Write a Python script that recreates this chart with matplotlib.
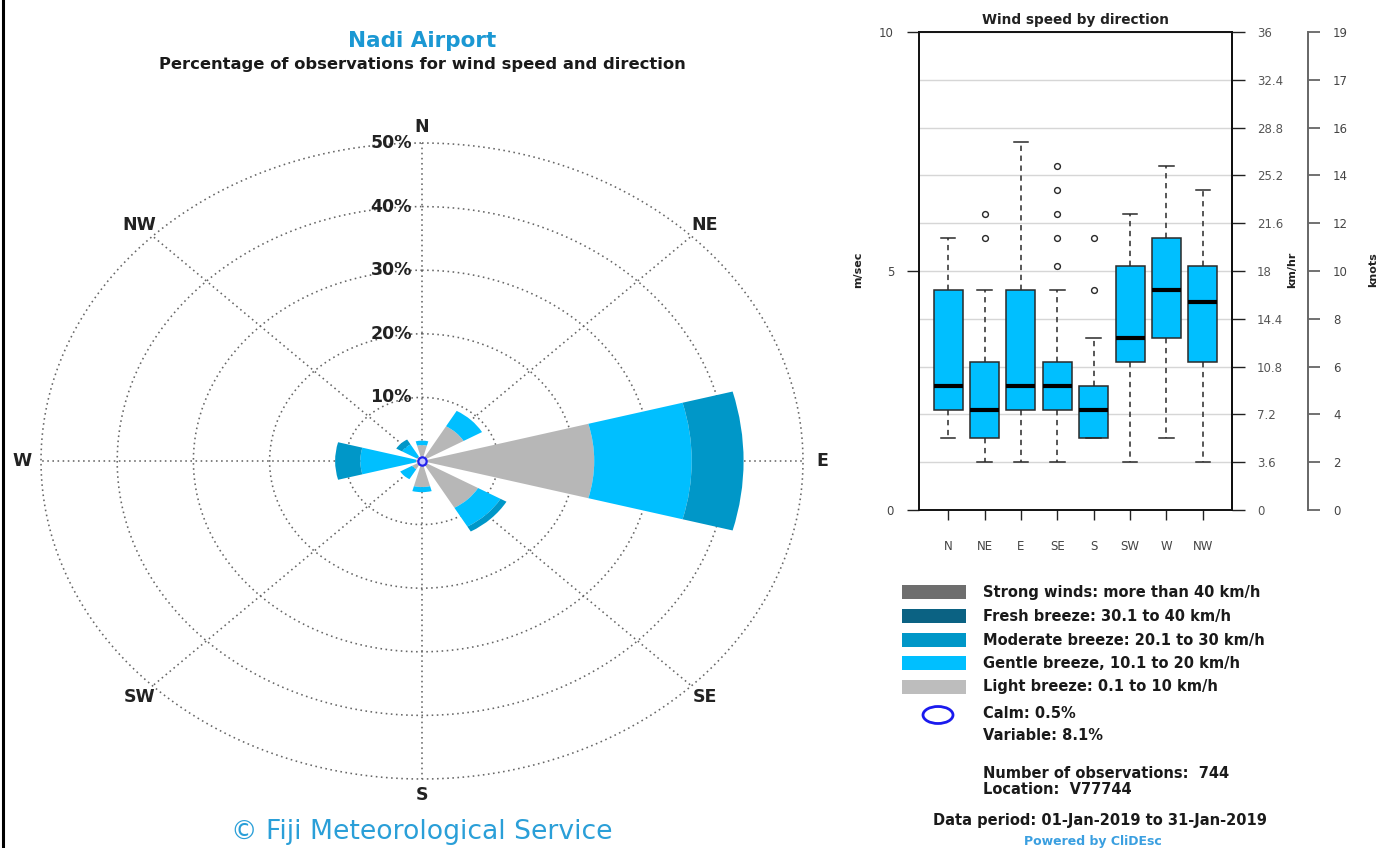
import numpy as np
import matplotlib
matplotlib.use("Agg")
import matplotlib.pyplot as plt
from matplotlib.patches import Rectangle, Ellipse
from matplotlib.lines import Line2D

plt.rcParams['font.family'] = ['DejaVu Sans']

# ---------------- data ----------------
directions = ['N', 'NE', 'E', 'SE', 'S', 'SW', 'W', 'NW']
dir_angles = [0, 45, 90, 135, 180, 225, 270, 315]
light_breeze = [2.5, 6.3, 22.6, 8.5, 4.1, 1.5, 0.8, 0.8]
gentle_breeze = [0.7, 2.8, 12.8, 3.4, 0.8, 1.8, 7.3, 2.2]
moderate_breeze = [0.0, 0.0, 6.8, 0.9, 0.0, 0.0, 3.3, 0.9]
fresh_breeze = [0, 0, 0, 0, 0, 0, 0, 0]
strong_winds = [0, 0, 0, 0, 0, 0, 0, 0]
ring_values = [10, 20, 30, 40, 50]
calm_pct = 0.5
variable_pct = 8.1

box_low = [1.5, 1.0, 1.0, 1.0, 1.5, 1.0, 1.5, 1.0]
box_q1 = [2.1, 1.5, 2.1, 2.1, 1.5, 3.1, 3.6, 3.1]
box_med = [2.6, 2.1, 2.6, 2.6, 2.1, 3.6, 4.6, 4.35]
box_q3 = [4.6, 3.1, 4.6, 3.1, 2.6, 5.1, 5.7, 5.1]
box_high = [5.7, 4.6, 7.7, 4.6, 3.6, 6.2, 7.2, 6.7]
box_outliers = [[], [5.7, 6.2], [], [5.1, 5.7, 6.2, 6.7, 7.2], [4.6, 5.7], [], [], []]

ms_ticks = [0, 5, 10]
kmh_ticks = [0, 3.6, 7.2, 10.8, 14.4, 18, 21.6, 25.2, 28.8, 32.4, 36]
kmh_labels = ['0', '3.6', '7.2', '10.8', '14.4', '18', '21.6', '25.2', '28.8', '32.4', '36']
knot_labels = ['0', '2', '4', '6', '8', '10', '12', '14', '16', '17', '19']

legend_labels = ['Strong winds: more than 40 km/h', 'Fresh breeze: 30.1 to 40 km/h',
                 'Moderate breeze: 20.1 to 30 km/h', 'Gentle breeze, 10.1 to 20 km/h',
                 'Light breeze: 0.1 to 10 km/h']
legend_colors = ['#6e6e6e', '#0b6283', '#0097c8', '#00bfff', '#bdbdbd']
band_colors = {'light': '#b7b7b7', 'gentle': '#00bfff', 'moderate': '#0097c8',
               'fresh': '#0b6283', 'strong': '#6e6e6e'}

W, H = 1377, 848
fig = plt.figure(figsize=(W / 100, H / 100), dpi=100)
fig.patch.set_facecolor('white')


def fx(px):
    return px / W


def fy(py):
    return 1 - py / H


# ---------------- wind rose ----------------
cx, cy = 422, 461
rx, ry = 381, 318
axp = fig.add_axes([fx(cx - rx), fy(cy + ry), 2 * rx / W, 2 * ry / H], projection='polar')
axp.set_aspect('auto')
axp.set_theta_zero_location('N')
axp.set_theta_direction(-1)
axp.set_ylim(0, 50)
axp.grid(False)
axp.set_xticks([])
axp.set_yticks([])
axp.spines['polar'].set_visible(False)
axp.patch.set_alpha(0)

grid_kw = dict(color='#666666', lw=1.15, linestyle=(0, (1, 2.2)), clip_on=False, zorder=1)
tt = np.linspace(0, 2 * np.pi, 721)
for r in ring_values:
    axp.plot(tt, np.full_like(tt, r), **grid_kw)
for a in dir_angles:
    axp.plot([np.deg2rad(a)] * 2, [0, 50], **grid_kw)

theta = np.deg2rad(dir_angles)
width = np.deg2rad(30)
bottom = np.zeros(len(directions))
for vals, key in [(light_breeze, 'light'), (gentle_breeze, 'gentle'),
                  (moderate_breeze, 'moderate'), (fresh_breeze, 'fresh'),
                  (strong_winds, 'strong')]:
    v = np.array(vals, dtype=float)
    axp.bar(theta, v, width=width, bottom=bottom, color=band_colors[key],
            edgecolor='none', linewidth=0, zorder=3, align='center')
    bottom += v

axp.plot([0], [0], marker='o', ms=6, mfc='#c8c8ff', mec='#2222ee', mew=1.6, zorder=5,
         clip_on=False)

for d, a in zip(directions, dir_angles):
    axp.text(np.deg2rad(a), 52.5, d, ha='center', va='center', fontsize=12.5,
             fontweight='bold', color='#222222', clip_on=False)
for r in ring_values:
    axp.annotate(f'{r}%', xy=(0, r), xytext=(-10, 0), textcoords='offset pixels',
                 ha='right', va='center', fontsize=12.5, fontweight='bold',
                 color='#222222', zorder=6)

# ---------------- box plot ----------------
bx0, bx1, by0, by1 = 919, 1232, 32, 510
axb = fig.add_axes([fx(bx0), fy(by1), (bx1 - bx0) / W, (by1 - by0) / H])
stats = []
for i, d in enumerate(directions):
    stats.append(dict(label=d, whislo=box_low[i], q1=box_q1[i], med=box_med[i],
                      q3=box_q3[i], whishi=box_high[i], fliers=box_outliers[i]))
axb.bxp(stats, positions=range(1, 9), widths=0.8, patch_artist=True, showfliers=True,
        boxprops=dict(facecolor='#00bfff', edgecolor='#2a2a2a', linewidth=1.1),
        medianprops=dict(color='black', linewidth=3, solid_capstyle='butt'),
        whiskerprops=dict(color='#2a2a2a', linewidth=1.1, linestyle=(0, (3.5, 3))),
        capprops=dict(color='#2a2a2a', linewidth=1.1),
        capwidths=0.4,
        flierprops=dict(marker='o', markerfacecolor='none', markeredgecolor='#2a2a2a',
                        markersize=4.2, markeredgewidth=1.0))
axb.set_xlim(0.2, 8.8)
axb.set_ylim(0, 10)
axb.set_yticks(ms_ticks)
axb.set_yticks(range(1, 10), minor=True)
axb.set_yticklabels([str(t) for t in ms_ticks])
axb.grid(axis='y', which='both', color='#d6d6d6', lw=1.0)
axb.set_axisbelow(True)
axb.tick_params(axis='y', which='major', length=9, width=1, pad=9, labelsize=8.5,
                labelcolor='#444444', color='#222222')
axb.tick_params(axis='y', which='minor', length=0)
axb.set_xticks(range(1, 9))
axb.set_xticklabels(directions)
axb.tick_params(axis='x', length=7.2, width=1, pad=14.5, labelsize=8.5,
                labelcolor='#444444', color='#222222')
for s in axb.spines.values():
    s.set_color('#111111')
    s.set_linewidth(1.4)

ax2 = axb.twinx()
ax2.set_ylim(0, 36)
ax2.set_yticks(kmh_ticks)
ax2.set_yticklabels(kmh_labels)
ax2.tick_params(axis='y', length=9.4, width=1, pad=8.6, labelsize=8.5,
                labelcolor='#555555', color='#222222')
for k in ['left', 'top', 'bottom']:
    ax2.spines[k].set_visible(False)
ax2.spines['right'].set_color('#111111')
ax2.spines['right'].set_linewidth(1.4)

ax3 = axb.twinx()
ax3.set_ylim(0, 10)
ax3.spines['right'].set_position(('axes', (1308 - bx0) / (bx1 - bx0)))
for k in ['left', 'top', 'bottom']:
    ax3.spines[k].set_visible(False)
ax3.spines['right'].set_color('#666666')
ax3.spines['right'].set_linewidth(1.4)
ax3.set_yticks(range(11))
ax3.set_yticklabels(knot_labels)
ax3.tick_params(axis='y', length=8.6, width=1.3, pad=9.4, labelsize=8.5,
                labelcolor='#444444', color='#666666')

# ---------------- overlay texts ----------------
ov = fig.add_axes([0, 0, 1, 1])
ov.set_xlim(0, W)
ov.set_ylim(H, 0)
ov.axis('off')
ov.patch.set_alpha(0)

ov.add_line(Line2D([3, 3], [0, H], color='black', lw=2.2))

ov.text(422, 41, 'Nadi Airport', ha='center', va='center', fontsize=15.5,
        fontweight='bold', color='#1b98d3')
ov.text(422, 65, 'Percentage of observations for wind speed and direction',
        ha='center', va='center', fontsize=11.8, fontweight='bold', color='#1a1a1a')
ov.text(422, 832, '\u00a9 Fiji Meteorological Service', ha='center', va='center',
        fontsize=19.2, color='#2a9fd8')

ov.text(1076, 20, 'Wind speed by direction', ha='center', va='center', fontsize=9.8,
        fontweight='bold', color='#222222')
ov.text(858, 270, 'm/sec', ha='center', va='center', rotation=90, fontsize=8,
        fontweight='bold', color='#222222')
ov.text(1292, 270, 'km/hr', ha='center', va='center', rotation=90, fontsize=8,
        fontweight='bold', color='#222222')
ov.text(1373, 270, 'knots', ha='center', va='center', rotation=90, fontsize=8,
        fontweight='bold', color='#222222')

row_y = [592, 616, 640, 663, 687]
for y, lab, col in zip(row_y, legend_labels, legend_colors):
    ov.add_patch(Rectangle((902, y - 7), 64, 14, facecolor=col, edgecolor='none'))
    ov.text(983, y, lab, ha='left', va='center', fontsize=10.5, fontweight='bold',
            color='#1a1a1a')
ov.add_patch(Ellipse((938, 715), 30, 17, facecolor='none', edgecolor='#1a1aee', lw=2))
ov.text(983, 713, f'Calm: {calm_pct}%', ha='left', va='center', fontsize=10.5,
        fontweight='bold', color='#1a1a1a')
ov.text(983, 736, f'Variable: {variable_pct}%', ha='left', va='center', fontsize=10.5,
        fontweight='bold', color='#1a1a1a')
ov.text(983, 773, 'Number of observations:  744', ha='left', va='center', fontsize=10.5,
        fontweight='bold', color='#1a1a1a')
ov.text(983, 790, 'Location:  V77744', ha='left', va='center', fontsize=10.5,
        fontweight='bold', color='#1a1a1a')
ov.text(933, 820, 'Data period: 01-Jan-2019 to 31-Jan-2019', ha='left', va='center',
        fontsize=10.5, fontweight='bold', color='#1a1a1a')
ov.text(1093, 842, 'Powered by CliDEsc', ha='center', va='center', fontsize=9,
        fontweight='bold', color='#3a9fe0')

fig.savefig('out.png', dpi=100, facecolor='white')
